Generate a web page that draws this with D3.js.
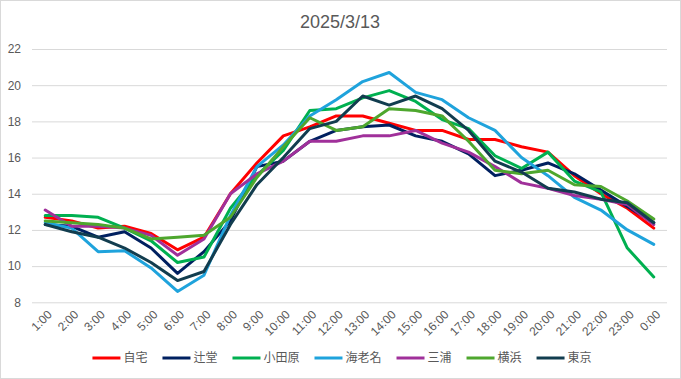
<!DOCTYPE html>
<html>
<head>
<meta charset="utf-8">
<script src="https://cdn.jsdelivr.net/npm/d3@7/dist/d3.min.js"></script>
<style>
  html, body { margin: 0; padding: 0; background: #fff; }
  svg { display: block; }
</style>
</head>
<body>
<svg id="chart" width="681" height="379"></svg>
<script>
const title = "2025/3/13";
const hours = ["1:00","2:00","3:00","4:00","5:00","6:00","7:00","8:00","9:00","10:00","11:00","12:00",
               "13:00","14:00","15:00","16:00","17:00","18:00","19:00","20:00","21:00","22:00","23:00","0:00"];
const yTicks = [8, 10, 12, 14, 16, 18, 20, 22];

const seriesNames = ["自宅", "辻堂", "小田原", "海老名", "三浦", "横浜", "東京"];
const jitaku   = [12.7,12.5,12.1,12.2,11.8,10.9,11.6,14.0,15.7,17.2,17.7,18.3,18.3,17.9,17.5,17.5,17.0,17.0,16.6,16.3,15.0,14.0,13.2,12.1];
const tsujido  = [12.3,12.2,11.6,11.9,11.0,9.6,10.8,12.5,15.5,15.8,16.9,17.5,17.7,17.8,17.2,16.9,16.2,15.0,15.3,15.7,15.1,14.2,13.3,12.4];
const odawara  = [12.8,12.8,12.7,12.1,11.4,10.2,10.5,13.2,15.0,16.4,18.6,18.7,19.3,19.7,19.1,18.1,17.6,16.1,15.4,16.3,14.7,14.1,11.0,9.4];
const ebina    = [12.4,12.1,10.8,10.85,9.9,8.6,9.5,12.8,15.5,16.7,18.3,19.2,20.2,20.7,19.6,19.2,18.2,17.5,16.0,15.0,13.8,13.1,12.0,11.2];
const miura    = [13.1,12.2,12.2,12.1,11.7,10.6,11.5,14.0,15.1,15.8,16.9,16.9,17.2,17.2,17.5,16.8,16.3,15.5,14.6,14.3,13.9,13.7,13.4,12.3];
const yokohama = [12.5,12.4,12.3,12.1,11.5,11.6,11.7,12.7,14.9,16.6,18.2,17.5,17.7,18.7,18.6,18.3,16.9,15.3,15.1,15.3,14.5,14.4,13.6,12.6];
const tokyo    = [12.3,11.9,11.6,11.0,10.2,9.2,9.7,12.3,14.5,16.0,17.6,18.0,19.4,18.9,19.4,18.7,17.5,15.8,15.2,14.3,14.1,13.7,13.5,12.4];

const seriesValues = [jitaku, tsujido, odawara, ebina, miura, yokohama, tokyo];
const colors = ["#ff0000", "#002060", "#00b050", "#1fa3dc", "#a0309a", "#4ea72e", "#123d4f"];

const W = 681, H = 379;
const svg = d3.select("#chart");
const textColor = "#595959";
const gridColor = "#d9d9d9";

// border
svg.append("rect").attr("x", 0.5).attr("y", 0.5).attr("width", W - 1).attr("height", H - 1)
  .attr("fill", "#fff").attr("stroke", gridColor);

const plot = { left: 32, right: 667, top: 49, bottom: 302.3 };

const x = d3.scalePoint().domain(hours).range([plot.left, plot.right]).padding(0.5);
const y = d3.scaleLinear().domain([8, 22]).range([plot.bottom, plot.top]);

// title
svg.append("text").attr("x", 340).attr("y", 28).attr("text-anchor", "middle")
  .attr("font-family", "Liberation Sans, Arial, sans-serif").attr("font-size", 18)
  .attr("fill", textColor).text(title);

// gridlines + y labels
const yAxis = d3.axisLeft(y).tickValues(yTicks).tickSize(-(plot.right - plot.left)).tickPadding(11);
const gy = svg.append("g").attr("transform", `translate(${plot.left},0)`).call(yAxis);
gy.select(".domain").remove();
gy.selectAll(".tick line").attr("stroke", gridColor).attr("stroke-width", 1);
gy.selectAll(".tick text").attr("fill", textColor).attr("font-size", 12)
  .attr("font-family", "Liberation Sans, Arial, sans-serif");

// x labels
const xAxis = d3.axisBottom(x).tickSize(0).tickPadding(0);
const gx = svg.append("g").attr("transform", `translate(0,${plot.bottom})`).call(xAxis);
gx.select(".domain").remove();
gx.selectAll(".tick text")
  .attr("fill", textColor).attr("font-size", 12)
  .attr("font-family", "Liberation Sans, Arial, sans-serif")
  .attr("text-anchor", "end")
  .attr("dy", "0.35em")
  .attr("transform", "translate(4,10) rotate(-45)")
  .attr("y", 0).attr("x", 0);

// lines
const line = d3.line().x((d, i) => x(hours[i])).y(d => y(d));
seriesValues.forEach((vals, k) => {
  svg.append("path").datum(vals).attr("d", line)
    .attr("fill", "none").attr("stroke", colors[k]).attr("stroke-width", 3)
    .attr("stroke-linejoin", "round").attr("stroke-linecap", "round");
});

// legend
const legendY = 358;
const lg = svg.append("g");
let cx = 0;
const items = [];
seriesNames.forEach((name, k) => {
  const g = lg.append("g").attr("transform", `translate(${cx},0)`);
  g.append("line").attr("x1", 0).attr("x2", 28).attr("y1", legendY).attr("y2", legendY)
    .attr("stroke", colors[k]).attr("stroke-width", 3);
  const t = g.append("text").attr("x", 31).attr("y", legendY).attr("dy", "0.35em")
    .attr("font-family", "Noto Sans CJK JP, sans-serif").attr("font-size", 12)
    .attr("fill", textColor).text(name);
  const w = t.node().getComputedTextLength();
  cx += 31 + w + 15;
});
const totalW = cx - 15;
lg.attr("transform", `translate(${(104 + 580) / 2 - totalW / 2},0)`);
</script>
</body>
</html>
